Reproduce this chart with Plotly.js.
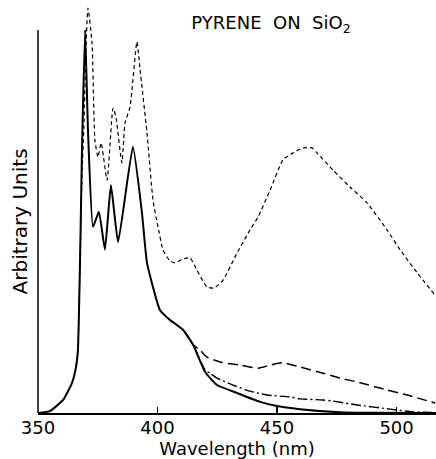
<!DOCTYPE html>
<html>
<head>
<meta charset="utf-8">
<script src="https://cdn.plot.ly/plotly-3.0.1.min.js"></script>
<style>html,body{margin:0;padding:0;background:#fff;}#chart{width:436px;height:459px;}</style>
</head>
<body>
<div id="chart"></div>
<script>
// Wavelength (nm) and intensity (arbitrary units, axis top = 100)
const solidX = [350, 355, 360.5, 364.2, 365.9, 366.7, 367.6, 368.4, 369.7, 370.9, 373.0, 375.5, 378.0, 380.5, 383.5, 389.7, 393.5, 395.6, 401.0, 405.2, 410.7, 414.9, 419.9, 424.9, 433.3, 442.9, 450.0, 459.6, 476.4, 490, 516.5];
const solidY = [0, 0.5, 3.4, 7.8, 12.0, 16.4, 40.0, 68.7, 100.0, 73.9, 48.6, 52.5, 42.6, 59.5, 44.6, 69.5, 52.2, 39.2, 26.9, 24.3, 21.7, 17.8, 10.7, 7.3, 5.2, 2.9, 1.8, 1.0, 0.2, 0.05, 0];

const shortDashX = [365.9, 366.7, 367.6, 368.4, 369.2, 370.1, 370.9, 372.6, 373.8, 375.1, 376.4, 378.9, 381.4, 382.6, 385.1, 386.4, 388.5, 391.4, 392.7, 395.6, 398.1, 400.2, 402.3, 405.2, 407.3, 410.7, 413.6, 416.5, 420.7, 423.6, 427.4, 433.3, 438.7, 442.1, 447.1, 452.5, 456.7, 460.9, 464.6, 466.7, 473.4, 480.5, 487.7, 496.0, 501.5, 508.6, 516.1];
const shortDashY = [12.0, 16.4, 40.0, 62.0, 75.0, 96.0, 105.7, 96.6, 71.3, 66.8, 70.5, 60.8, 79.6, 77.3, 65.3, 75.7, 79.9, 96.9, 89.6, 73.1, 55.6, 48.6, 42.6, 39.7, 39.2, 40.2, 40.5, 37.3, 32.9, 32.6, 34.7, 41.8, 47.8, 51.2, 58.2, 66.1, 67.9, 69.2, 69.2, 67.9, 63.4, 59.0, 54.8, 47.8, 42.6, 36.6, 30.8];

const longDashX = [405.2, 410.7, 414.9, 417.8, 420.7, 426.2, 434.5, 442.1, 447.1, 452.1, 459.6, 469.2, 476.4, 483.5, 496.0, 504.4, 516.1];
const longDashY = [24.3, 21.7, 17.8, 16.4, 14.6, 13.3, 12.5, 11.7, 12.5, 13.1, 12.0, 10.4, 9.1, 8.1, 6.0, 4.7, 2.6];

const dashDotX = [410.7, 414.9, 419.9, 422.0, 424.9, 431.6, 438.7, 445.8, 455.4, 459.6, 469.2, 473.4, 483.5, 497.3, 506.9, 516.5];
const dashDotY = [21.7, 17.8, 11.2, 10.4, 9.1, 7.3, 5.7, 4.7, 4.2, 3.7, 3.4, 3.1, 2.1, 1.0, 0.3, 0.1];

const tickVals = [350, 400, 450, 500];
const tickText = ['350', '400', '450', '500'];

const traces = [
  {x: shortDashX, y: shortDashY, mode: 'lines', line: {color: '#000', width: 1.2, dash: '4px,3px', shape: 'spline', smoothing: 0.5}},
  {x: longDashX, y: longDashY, mode: 'lines', line: {color: '#000', width: 1.5, dash: '10px,5px', shape: 'spline', smoothing: 0.6}},
  {x: dashDotX, y: dashDotY, mode: 'lines', line: {color: '#000', width: 1.4, dash: '10px,3px,2px,3px', shape: 'spline', smoothing: 0.6}},
  {x: solidX, y: solidY, mode: 'lines', line: {color: '#000', width: 2, shape: 'spline', smoothing: 0.4}}
];

const layout = {
  width: 436, height: 459,
  margin: {l: 38, r: 0, t: 5, b: 46},
  paper_bgcolor: '#fff', plot_bgcolor: '#fff',
  showlegend: false,
  font: {family: 'DejaVu Sans', color: '#000'},
  title: {text: 'PYRENE  ON  SiO<sub>2</sub>', x: 0.6216, xanchor: 'center', y: 0.951, yanchor: 'middle', font: {size: 18, family: 'DejaVu Sans', color: '#000'}},
  xaxis: {
    range: [350, 516.5], tickvals: tickVals, ticktext: tickText,
    ticks: 'inside', ticklen: 6, tickwidth: 1.5, tickcolor: '#000',
    ticklabelstandoff: -3,
    showline: true, linewidth: 2, linecolor: '#000',
    showgrid: false, zeroline: false,
    tickfont: {size: 18, family: 'DejaVu Sans', color: '#000'},
    title: {text: 'Wavelength (nm)', standoff: 6, font: {size: 18, family: 'DejaVu Sans', color: '#000'}}
  },
  yaxis: {
    range: [0, 106.5], showticklabels: false, ticks: '',
    showgrid: false, zeroline: false, showline: false
  },
  annotations: [
    {text: 'Arbitrary Units', textangle: -90, xref: 'paper', x: -0.0452, xanchor: 'center', yref: 'y', y: 50, yanchor: 'middle', showarrow: false, font: {size: 20, family: 'DejaVu Sans', color: '#000'}}
  ],
  shapes: [
    {type: 'line', xref: 'paper', x0: 0, x1: 0, yref: 'y', y0: 0, y1: 100, line: {color: '#000', width: 1.5}}
  ]
};

Plotly.newPlot('chart', traces, layout, {displayModeBar: false, staticPlot: true});
</script>
</body>
</html>
